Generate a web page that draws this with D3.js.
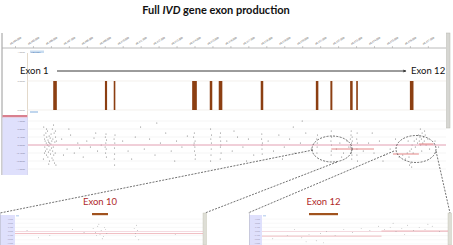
<!DOCTYPE html>
<html>
<head>
<meta charset="utf-8">
<script src="https://cdn.jsdelivr.net/npm/d3@7"></script>
<style>
  body { margin: 0; background: #fff; }
  svg { display: block; font-family: Lato, "Open Sans", sans-serif; }
</style>
</head>
<body>
<div id="chart"></div>
<script>
// genomic ruler (kb offsets from 40,404,000) and its labels
var tickKb = [0, 1, 2, 3, 4, 5, 6, 7, 8, 9, 10, 11, 12, 13, 14, 15, 16, 17, 18, 19, 20, 21, 22, 23];
var tickLabels = ['40,404,000', '40,405,000', '40,406,000', '40,407,000', '40,408,000', '40,409,000',
    '40,410,000', '40,411,000', '40,412,000', '40,413,000', '40,414,000', '40,415,000',
    '40,416,000', '40,417,000', '40,418,000', '40,419,000', '40,420,000', '40,421,000',
    '40,422,000', '40,423,000', '40,424,000', '40,425,000', '40,426,000', '40,427,000'];

// exons of IVD (kb)
var exonNames = ['Exon 1', 'Exon 2', 'Exon 3', 'Exon 4', 'Exon 5', 'Exon 6',
    'Exon 7', 'Exon 8', 'Exon 9', 'Exon 10', 'Exon 11', 'Exon 12'];
var exonStartKb = [2.13, 5.01, 5.50, 9.87, 10.85, 11.35, 13.69, 16.76, 17.57, 18.67, 19.01, 22.00];
var exonEndKb   = [2.33, 5.13, 5.59, 10.13, 10.99, 11.55, 13.83, 16.90, 17.68, 18.81, 19.10, 22.20];
var exonSignal  = [5, 5, 5, 5, 5, 5, 5, 5, 5, 5, 5, 5];

// segmented log ratio
var segStartKb = [17.62, 21.06, 22.50];
var segEndKb   = [20.00, 22.50, 23.30];
var segValue   = [-0.20, -0.45, 0.05];

var scatterTicks = [1.2, 0.8, 0.4, 0, -0.4, -0.8, -1.2];

// probe log ratios [kb, value]
var probePoints = [
    [1.6, 0.9], [1.62, 0.5], [1.65, 0.3], [1.66, -0.1], [1.68, 0.2], [1.7, -0.3], [1.72, 0.6], [1.74, 0.1],
    [1.75, -0.5], [1.77, 0.4], [1.78, -0.2], [1.8, 0.0], [1.81, 0.7], [1.83, -0.6], [1.84, 0.25], [1.86, -0.35],
    [1.87, 0.15], [1.89, -0.05], [1.9, 0.45], [1.92, -0.8], [1.93, 0.1], [1.95, -0.25], [1.96, 0.35], [1.98, -0.45],
    [2.0, 0.05], [2.01, 0.55], [2.03, -0.15], [2.05, 0.2], [2.06, -0.65], [2.08, 0.8], [2.1, -0.3], [2.11, 0.3],
    [2.13, -0.1], [2.15, 1.0], [2.16, -0.5], [2.18, 0.6], [2.2, -0.9], [2.22, 0.15], [2.24, -0.4], [2.26, 0.4],
    [2.28, -1.0], [2.3, 0.2], [1.58, -0.7], [1.64, -0.4], [1.76, 0.8], [1.88, -0.95], [2.12, -0.75], [2.25, 0.7],
    [2.6, 0.3], [2.9, -0.2], [3.1, 0.5], [3.3, -0.4], [3.5, 0.1], [3.8, -0.6], [4.0, 0.2], [4.2, -0.1],
    [4.4, 0.35], [4.6, -0.3], [4.8, 0.0], [2.7, -0.5], [3.0, 0.8], [3.6, -0.15], [4.5, 0.6],
    [5.03, 0.4], [5.06, 0.1], [5.08, -0.2], [5.05, -0.4], [5.1, 0.25], [5.02, -0.1], [5.07, 0.55], [5.09, -0.6],
    [5.52, 0.3], [5.54, -0.15], [5.56, 0.1], [5.55, -0.45], [5.53, -0.7], [5.57, 0.5], [5.55, -1.0],
    [6.0, 0.2], [6.3, -0.3], [6.7, 0.4], [7.0, 0.9], [7.2, -0.2], [7.5, 0.3], [7.8, -0.5], [8.1, 0.1],
    [8.4, 0.6], [8.7, -0.3], [9.0, 0.2], [9.3, -0.1], [9.6, 0.45], [6.5, -0.7], [8.9, -0.8], [7.9, 1.1],
    [9.95, 0.4], [9.98, 0.1], [10.0, -0.3], [10.03, 0.2], [10.05, -0.5], [9.99, 0.6], [10.02, -0.1], [10.04, -0.7], [9.97, 0.0],
    [10.9, 0.8], [10.91, 0.3], [10.93, -0.2], [10.94, 0.1], [10.92, -0.5], [10.9, -0.8], [10.95, 0.5],
    [11.42, 0.4], [11.44, -0.1], [11.46, 0.2], [11.48, -0.4], [11.45, 0.6], [11.43, -0.7], [11.47, 0.0],
    [11.8, 0.2], [12.1, -0.3], [12.4, 0.4], [12.7, -0.1], [13.0, 0.3], [13.3, -0.5], [12.2, 0.7], [12.9, -0.8],
    [13.74, 0.3], [13.76, -0.2], [13.78, 0.1], [13.75, 0.55], [13.77, -0.45], [13.76, 0.0],
    [14.1, 0.2], [14.4, -0.3], [14.7, 0.5], [15.0, -0.1], [15.3, 0.3], [15.6, -0.4], [15.9, 0.1], [16.2, 0.6],
    [16.5, -0.2], [14.9, -0.7], [15.5, 0.9], [16.0, 1.2],
    [16.81, 0.3], [16.83, -0.1], [16.85, 0.5], [16.82, -0.4], [16.84, 0.1],
    [17.6, 0.2], [17.62, -0.3], [17.64, 0.4], [17.61, -0.5], [17.63, 0.0], [17.62, 0.7],
    [17.9, -0.2], [18.1, 0.1], [18.3, -0.4], [18.5, 0.2], [18.2, -0.6], [18.6, -0.1],
    [18.68, 0.3], [18.7, -0.1], [18.72, 0.5], [18.74, -0.3], [18.75, 0.1], [18.77, -0.5], [18.79, 0.2],
    [18.73, 0.7], [18.76, -0.7], [18.8, -0.2], [18.71, -0.4], [18.78, 0.4],
    [19.04, 0.3], [19.05, -0.2], [19.07, 0.1], [19.05, -0.5], [19.06, 0.6], [19.08, -0.8],
    [19.4, -0.3], [19.7, 0.1], [20.0, -0.4], [20.3, 0.2], [20.6, -0.5], [20.9, -0.2], [21.2, 0.3],
    [19.9, 0.6], [20.5, -0.8], [21.4, -0.6],
    [21.6, -0.5], [21.75, -0.7], [21.85, -0.4], [21.95, -0.6], [22.0, -0.3], [22.05, -0.9], [22.08, -0.2],
    [22.1, -1.1], [22.12, 0.0], [22.18, -0.4], [22.24, 0.2], [22.3, -0.1], [22.36, 0.3], [22.42, 0.1],
    [22.48, 0.5], [22.52, 0.2], [22.56, 0.4], [22.6, 0.0], [22.64, 0.3], [22.68, 0.6], [22.72, 0.1],
    [22.76, 0.4], [22.8, 0.2], [22.85, 0.5], [22.9, 0.0], [23.0, 0.3], [23.1, -0.2], [22.58, 0.8],
    [22.66, -0.3], [22.82, 0.7], [21.9, 0.2], [21.98, -1.0], [23.4, 0.2], [23.6, -0.1]
];

var svg = d3.select('#chart').append('svg')
    .attr('width', 453)
    .attr('height', 245);

// title
var title = svg.append('text')
    .attr('x', 216)
    .attr('y', 13.5)
    .attr('text-anchor', 'middle')
    .attr('font-size', '11px')
    .attr('font-weight', 'bold')
    .attr('fill', '#111');
title.append('tspan').text('Full ');
title.append('tspan').attr('font-style', 'italic').text('IVD');
title.append('tspan').text(' gene exon production');

// scales
var x = d3.scaleLinear().domain([0, 24]).range([15, 445.8]);
var ySignal = d3.scaleLinear().domain([0, 5]).range([110, 81]);
var yRatio = d3.scaleLinear().domain([-1.5, 1.4]).range([175, 117]);

// browser frame
svg.append('line').attr('x1', 2).attr('x2', 2).attr('y1', 33).attr('y2', 175)
    .attr('stroke', '#9a9a9a').attr('stroke-width', 1);
svg.append('line').attr('x1', 2).attr('x2', 446).attr('y1', 48).attr('y2', 48)
    .attr('stroke', '#a8a8a8').attr('stroke-width', 0.8);
svg.append('rect').attr('x', 446.5).attr('y', 33).attr('width', 3.5).attr('height', 95)
    .attr('fill', '#d6d6d2').attr('stroke', '#b8b8b0').attr('stroke-width', 0.5);

// ruler
var axis = svg.append('g')
    .attr('transform', 'translate(0,48)')
    .call(d3.axisTop(x).tickValues(tickKb).tickSize(2)
        .tickFormat(function (d, i) { return tickLabels[i]; }));
axis.select('.domain').remove();
axis.selectAll('line').attr('stroke', '#999').attr('stroke-width', 0.5);
axis.selectAll('text')
    .attr('x', 0).attr('y', 0).attr('dy', 0)
    .attr('transform', 'translate(-5,-3) rotate(-32)')
    .style('text-anchor', 'start')
    .attr('font-size', '2.6px')
    .attr('fill', '#555');

// small track labels
svg.append('text').attr('x', 25).attr('y', 53).attr('text-anchor', 'end')
    .attr('font-size', '2.4px').attr('fill', '#999').text('1.0000');
svg.append('rect').attr('x', 30).attr('y', 50.5).attr('width', 14).attr('height', 2.5).attr('fill', '#c8dcf0');
svg.append('text').attr('x', 31).attr('y', 52.6)
    .attr('font-size', '2.2px').attr('fill', '#3a70b0').text('IVD 0.031');
svg.append('line').attr('x1', 27.5).attr('x2', 27.5).attr('y1', 53).attr('y2', 115)
    .attr('stroke', '#dccfbd').attr('stroke-width', 0.8);

// gene direction
var defs = svg.append('defs');
defs.append('marker').attr('id', 'arrow').attr('viewBox', '0 0 10 10')
    .attr('refX', 9).attr('refY', 5).attr('markerWidth', 6).attr('markerHeight', 4)
    .attr('orient', 'auto')
    .append('path').attr('d', 'M0,1 L10,5 L0,9 L3,5 Z').attr('fill', '#222');
svg.append('text').attr('x', 20).attr('y', 74).attr('font-size', '9.5px').attr('fill', '#111').text(exonNames[0]);
svg.append('text').attr('x', 411).attr('y', 74).attr('font-size', '9.5px').attr('fill', '#111').text(exonNames[11]);
svg.append('line').attr('x1', 57).attr('x2', 406).attr('y1', 71).attr('y2', 71)
    .attr('stroke', '#222').attr('stroke-width', 0.9).attr('marker-end', 'url(#arrow)');

// exon signal track
[0, 5].forEach(function (v) {
    svg.append('line').attr('x1', 27).attr('x2', 446).attr('y1', ySignal(v)).attr('y2', ySignal(v))
        .attr('stroke', '#eeeae4').attr('stroke-width', 0.7);
    svg.append('text').attr('x', 25).attr('y', ySignal(v) + 0.8).attr('text-anchor', 'end')
        .attr('font-size', '2.4px').attr('fill', '#999').text(d3.format('.4f')(v));
});
svg.selectAll('.exon').data(exonStartKb).enter().append('rect')
    .attr('class', 'exon')
    .attr('x', function (d) { return x(d); })
    .attr('width', function (d, i) { return x(exonEndKb[i]) - x(d); })
    .attr('y', function (d, i) { return ySignal(exonSignal[i]); })
    .attr('height', function (d, i) { return ySignal(0) - ySignal(exonSignal[i]); })
    .attr('fill', '#8c3f12');
svg.append('rect').attr('x', 30).attr('y', 111).attr('width', 8).attr('height', 2).attr('fill', '#c0d6ee');

// log ratio track
svg.append('rect').attr('x', 2.5).attr('y', 115).attr('width', 25).attr('height', 2.5).attr('fill', '#d9808f');
svg.append('rect').attr('x', 2.5).attr('y', 117.5).attr('width', 25).attr('height', 57.5).attr('fill', '#dfe0fc');
svg.append('line').attr('x1', 27.5).attr('x2', 27.5).attr('y1', 117).attr('y2', 175)
    .attr('stroke', '#c8c8e8').attr('stroke-width', 0.6);
scatterTicks.forEach(function (v) {
    svg.append('line').attr('x1', 27.5).attr('x2', 446).attr('y1', yRatio(v)).attr('y2', yRatio(v))
        .attr('stroke', '#efefef').attr('stroke-width', 0.6);
    svg.append('text').attr('x', 25).attr('y', yRatio(v) + 0.8).attr('text-anchor', 'end')
        .attr('font-size', '2.4px').attr('fill', '#8a8aa8').text(d3.format('.4f')(v));
});

defs.append('clipPath').attr('id', 'mainClip').append('rect')
    .attr('x', 28).attr('y', 117).attr('width', 418).attr('height', 58);
var plot = svg.append('g').attr('clip-path', 'url(#mainClip)');
plot.selectAll('circle').data(probePoints).enter().append('circle')
    .attr('cx', function (d) { return x(d[0]); })
    .attr('cy', function (d) { return yRatio(d[1]); })
    .attr('r', 0.5)
    .attr('fill', '#666');
plot.append('line').attr('x1', 27).attr('x2', 447).attr('y1', yRatio(0)).attr('y2', yRatio(0))
    .attr('stroke', '#e59bb0').attr('stroke-width', 0.9);
plot.selectAll('.seg').data(segStartKb).enter().append('line')
    .attr('class', 'seg')
    .attr('x1', function (d) { return x(d); })
    .attr('x2', function (d, i) { return x(segEndKb[i]); })
    .attr('y1', function (d, i) { return yRatio(segValue[i]); })
    .attr('y2', function (d, i) { return yRatio(segValue[i]); })
    .attr('stroke', '#e27a7a').attr('stroke-width', 0.9);

// zoom callouts
var dash = '2,1.3';
svg.append('ellipse').attr('cx', x(17.66)).attr('cy', yRatio(-0.2)).attr('rx', 20).attr('ry', 13)
    .attr('fill', 'none').attr('stroke', '#333').attr('stroke-width', 0.7).attr('stroke-dasharray', dash);
svg.append('ellipse').attr('cx', x(22.34)).attr('cy', yRatio(-0.2)).attr('rx', 20).attr('ry', 13.5)
    .attr('fill', 'none').attr('stroke', '#333').attr('stroke-width', 0.7).attr('stroke-dasharray', dash);
[[313, 150, 0, 213], [337, 162, 205, 213], [394, 151, 248, 213], [436, 151, 450, 213]].forEach(function (l) {
    svg.append('line').attr('x1', l[0]).attr('y1', l[1]).attr('x2', l[2]).attr('y2', l[3])
        .attr('stroke', '#333').attr('stroke-width', 0.7).attr('stroke-dasharray', dash);
});

// zoomed insets
function drawInset(id, left, plotLeft, plotRight, exonIndex, exonPx, pxPerKb) {
    var k = exonIndex;
    var g = svg.append('g');
    var mid = (exonStartKb[k] + exonEndKb[k]) / 2;
    var xi = d3.scaleLinear()
        .domain([mid - (exonPx - plotLeft) / pxPerKb, mid + (plotRight - exonPx) / pxPerKb])
        .range([plotLeft, plotRight]);
    var yi = d3.scaleLinear().domain([-1.5, 1.4]).range([247, 217]);

    g.append('rect').attr('x', left).attr('y', 215).attr('width', plotLeft - left).attr('height', 30)
        .attr('fill', '#dfe0fc');
    g.append('line').attr('x1', left + 0.5).attr('x2', left + 0.5).attr('y1', 213).attr('y2', 245)
        .attr('stroke', '#b8b8c8').attr('stroke-width', 0.6);
    g.append('rect').attr('x', plotLeft + 1).attr('y', 215.2).attr('width', 3).attr('height', 1.2).attr('fill', '#b8d0ee');
    scatterTicks.forEach(function (v) {
        g.append('line').attr('x1', plotLeft).attr('x2', plotRight).attr('y1', yi(v)).attr('y2', yi(v))
            .attr('stroke', '#f1f1f1').attr('stroke-width', 0.5);
        g.append('text').attr('x', plotLeft - 2).attr('y', yi(v) + 0.6).attr('text-anchor', 'end')
            .attr('font-size', '1.6px').attr('fill', '#9a9ab8').text(d3.format('.4f')(v));
    });
    g.append('rect').attr('x', plotRight).attr('y', 213).attr('width', 3.5).attr('height', 32)
        .attr('fill', '#deded6').attr('stroke', '#c0c0b0').attr('stroke-width', 0.4);

    defs.append('clipPath').attr('id', 'clip' + id).append('rect')
        .attr('x', plotLeft).attr('y', 215).attr('width', plotRight - plotLeft).attr('height', 30);
    var p = g.append('g').attr('clip-path', 'url(#clip' + id + ')');
    p.append('line').attr('x1', plotLeft).attr('x2', plotRight).attr('y1', yi(0)).attr('y2', yi(0))
        .attr('stroke', '#f0c4cf').attr('stroke-width', 0.6);
    p.selectAll('.seg').data(segStartKb).enter().append('line')
        .attr('x1', function (d) { return xi(d); })
        .attr('x2', function (d, i) { return xi(segEndKb[i]); })
        .attr('y1', function (d, i) { return yi(segValue[i]); })
        .attr('y2', function (d, i) { return yi(segValue[i]); })
        .attr('stroke', '#eaa0a8').attr('stroke-width', 0.7);
    p.selectAll('circle').data(probePoints).enter().append('circle')
        .attr('cx', function (d) { return xi(d[0]); })
        .attr('cy', function (d) { return yi(d[1]); })
        .attr('r', 0.45)
        .attr('fill', '#999');

    g.append('rect').attr('x', xi(exonStartKb[k])).attr('y', 213)
        .attr('width', xi(exonEndKb[k]) - xi(exonStartKb[k])).attr('height', 2.2)
        .attr('fill', '#a0521d');
    g.append('text').attr('x', xi(mid)).attr('y', 205).attr('text-anchor', 'middle')
        .attr('font-size', '9.5px').attr('fill', '#b02a2a').text(exonNames[k]);
}
drawInset('a', 0, 15, 203, 9, 100, 114);
drawInset('b', 249, 262, 448, 11, 323.5, 145);
</script>
</body>
</html>
